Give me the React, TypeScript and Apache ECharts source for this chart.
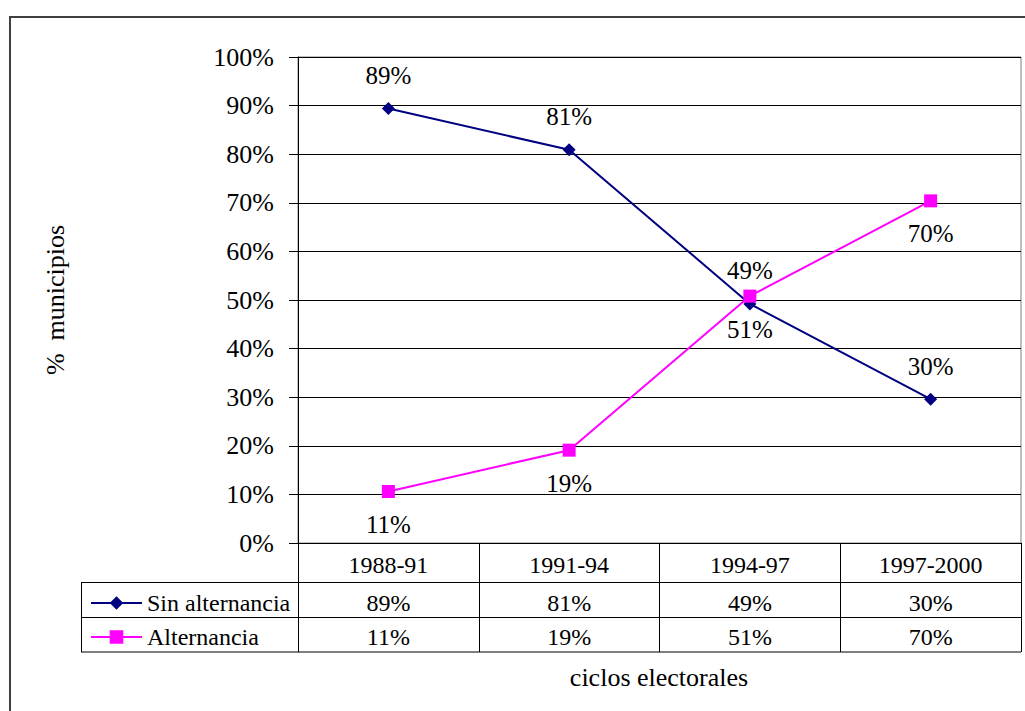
import React, { useEffect, useRef } from "react";
import * as echarts from "echarts";

const categories = ["1988-91", "1991-94", "1994-97", "1997-2000"];
const sinAlternancia = [89.4, 80.9, 49.2, 29.6];
const alternancia = [10.6, 19.1, 50.8, 70.4];
const seriesNames = ["Sin alternancia", "Alternancia"];
const yTicks = [0, 10, 20, 30, 40, 50, 60, 70, 80, 90, 100];

const FONT = "Liberation Serif";

export default function App() {
  const ref = useRef<HTMLDivElement>(null);
  useEffect(() => {
    if (!ref.current) return;
    const chart = echarts.init(ref.current, null, { renderer: "svg" });
    const pct = (v: number) => Math.round(v) + "%";
    const option: any = {
      animation: false,
      backgroundColor: "#ffffff",
      textStyle: { fontFamily: FONT, color: "#000" },
      grid: {
        left: 298,
        top: 57,
        right: 4,
        bottom: 168,
        show: true,
        borderColor: "#808080",
        borderWidth: 1,
      },
      legend: {
        orient: "vertical",
        left: 85,
        top: 586,
        itemWidth: 51,
        itemHeight: 17,
        itemGap: 10,
        itemTextGap: 6,
        selectedMode: false,
        textStyle: { fontFamily: FONT, fontSize: 24, color: "#000" },
        data: seriesNames,
      },
      xAxis: {
        type: "category",
        data: categories,
        boundaryGap: true,
        axisLine: { show: true, lineStyle: { color: "#000", width: 1 } },
        axisTick: {
          show: true,
          interval: 0,
          alignWithLabel: false,
          length: 109,
          lineStyle: { color: "#000", width: 1 },
        },
        axisLabel: {
          interval: 0,
          margin: 1,
          fontFamily: FONT,
          fontSize: 24,
          color: "#000",
          verticalAlign: "top",
          rich: {
            h: { fontFamily: FONT, fontSize: 24, color: "#000", lineHeight: 42 },
            v: { fontFamily: FONT, fontSize: 24, color: "#000", lineHeight: 34 },
          },
          formatter: (value: string, index: number) =>
            `{h|${value}}\n{v|${pct(sinAlternancia[index])}}\n{v|${pct(alternancia[index])}}`,
        },
        splitLine: { show: false },
      },
      yAxis: {
        type: "value",
        min: yTicks[0],
        max: yTicks[yTicks.length - 1],
        interval: 10,
        name: "%  municipios",
        nameLocation: "middle",
        nameRotate: 90,
        nameGap: 230,
        nameTextStyle: { fontFamily: FONT, fontSize: 26, color: "#000" },
        axisLine: { show: true, lineStyle: { color: "#000", width: 1 } },
        axisTick: { show: true, length: 9, lineStyle: { color: "#000" } },
        axisLabel: {
          margin: 24,
          fontFamily: FONT,
          fontSize: 26,
          color: "#000",
          formatter: (v: number) => v + "%",
        },
        splitLine: { show: true, lineStyle: { color: "#000", width: 1 } },
      },
      series: [
        {
          name: seriesNames[0],
          type: "line",
          data: sinAlternancia,
          symbol: "diamond",
          symbolSize: 13,
          color: "#000080",
          lineStyle: { color: "#000080", width: 2 },
          itemStyle: { color: "#000080" },
          label: {
            show: true,
            position: "top",
            distance: 14,
            fontFamily: FONT,
            fontSize: 25,
            color: "#000",
            formatter: (p: any) => pct(p.value),
          },
          z: 3,
        },
        {
          name: seriesNames[1],
          type: "line",
          data: alternancia,
          symbol: "rect",
          symbolSize: 13,
          color: "#ff00ff",
          lineStyle: { color: "#ff00ff", width: 2 },
          itemStyle: { color: "#ff00ff" },
          label: {
            show: true,
            position: "bottom",
            distance: 14,
            fontFamily: FONT,
            fontSize: 25,
            color: "#000",
            formatter: (p: any) => pct(p.value),
          },
          z: 4,
        },
      ],
      graphic: [
        {
          type: "rect",
          z: -10,
          silent: true,
          shape: { x: 10, y: 17, width: 1100, height: 800 },
          style: { fill: "none", stroke: "#404040", lineWidth: 2 },
        },
        {
          type: "line",
          silent: true,
          shape: { x1: 81, y1: 582.5, x2: 1021, y2: 582.5 },
          style: { stroke: "#000", lineWidth: 1 },
        },
        {
          type: "line",
          silent: true,
          shape: { x1: 81, y1: 617.5, x2: 1021, y2: 617.5 },
          style: { stroke: "#000", lineWidth: 1 },
        },
        {
          type: "line",
          silent: true,
          shape: { x1: 81, y1: 652, x2: 1021, y2: 652 },
          style: { stroke: "#000", lineWidth: 1 },
        },
        {
          type: "line",
          silent: true,
          shape: { x1: 81.5, y1: 582.5, x2: 81.5, y2: 652 },
          style: { stroke: "#000", lineWidth: 1 },
        },
        {
          type: "text",
          x: 659,
          y: 677,
          style: {
            text: "ciclos electorales",
            fontFamily: FONT,
            fontSize: 26,
            fill: "#000",
            textAlign: "center",
            textVerticalAlign: "middle",
          },
        },
      ],
    };
    chart.setOption(option);
    return () => chart.dispose();
  }, []);
  return (
    <div
      ref={ref}
      style={{ position: "fixed", left: 0, top: 0, width: 1025, height: 711 }}
    />
  );
}
